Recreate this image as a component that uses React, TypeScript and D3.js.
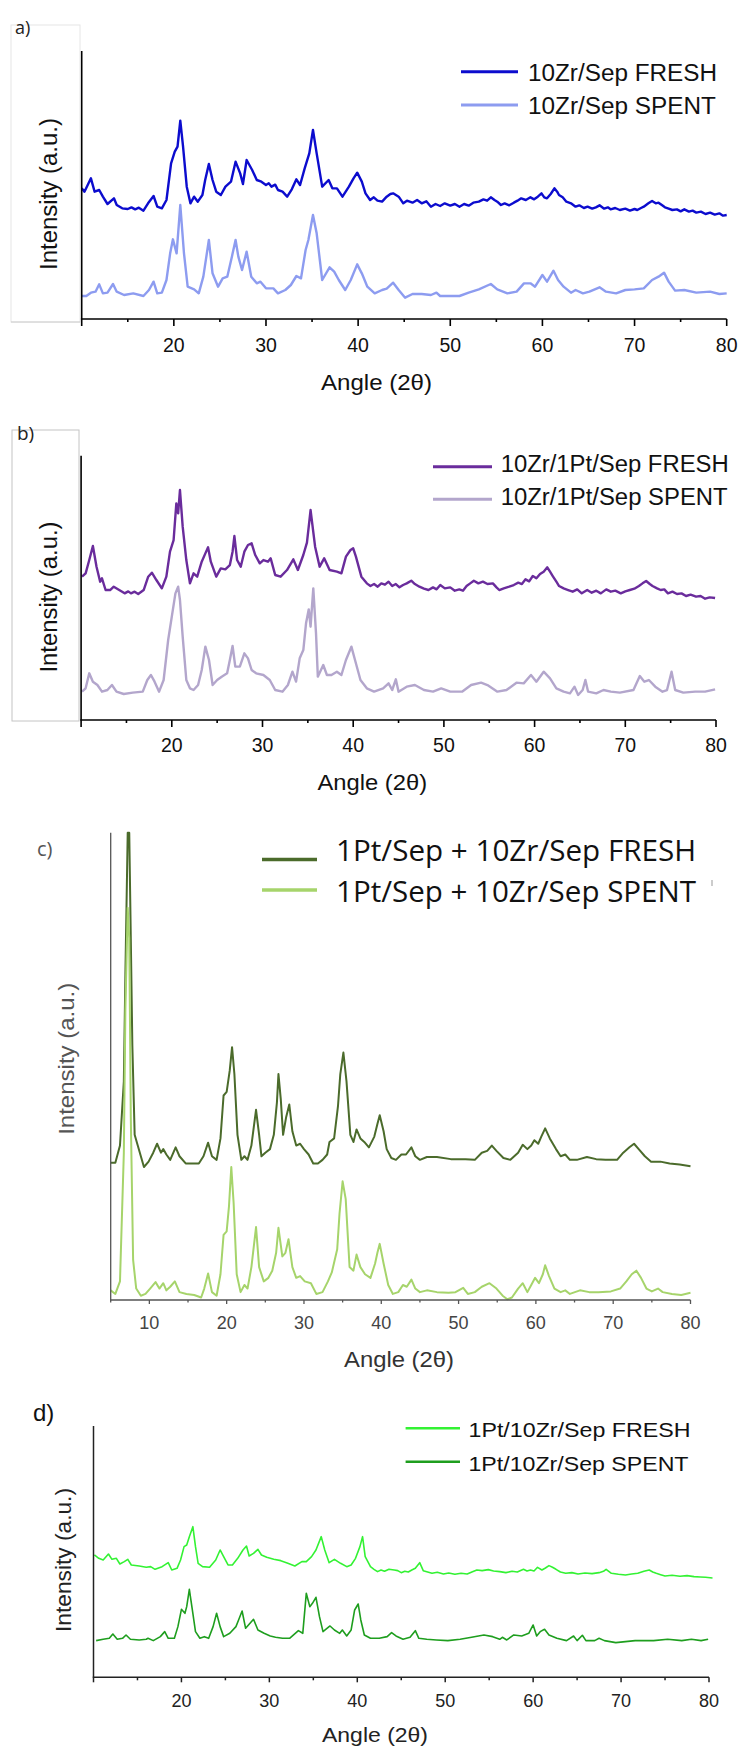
import React from 'react';
import * as d3 from 'd3';

type Pt = [number, number];

// ---------- DATA (angle 2θ, intensity a.u.) ----------
const aFresh: Pt[] = [[10.0,435],[10.3,425],[11.0,465],[11.4,425],[11.9,430],[12.3,410],[12.8,388],[13.5,405],[13.8,385],[14.4,375],[15.0,373],[15.4,378],[15.8,372],[16.2,377],[16.7,368],[17.2,390],[17.8,412],[18.2,380],[18.7,375],[19.2,400],[19.7,510],[20.1,545],[20.4,560],[20.7,638],[21.0,560],[21.4,440],[21.8,390],[22.2,410],[22.6,395],[23.1,415],[23.4,460],[23.8,508],[24.2,460],[24.6,425],[25.1,415],[25.6,440],[26.2,455],[26.7,515],[27.2,480],[27.5,448],[27.9,520],[28.5,490],[29.0,460],[29.5,455],[30.0,445],[30.3,450],[30.6,440],[31.0,446],[31.3,430],[31.8,425],[32.3,410],[32.8,432],[33.3,462],[33.7,445],[34.2,495],[34.7,540],[35.1,610],[35.5,540],[36.1,440],[36.8,460],[37.2,435],[37.7,435],[38.3,410],[39.0,440],[39.5,465],[39.9,482],[40.4,455],[40.8,420],[41.3,400],[41.7,408],[42.1,398],[42.6,395],[43.1,410],[43.5,418],[43.8,420],[44.4,410],[44.9,390],[45.3,398],[45.9,392],[46.4,400],[46.9,390],[47.4,396],[47.9,380],[48.4,388],[48.9,382],[49.4,390],[50.0,383],[50.5,388],[51.0,380],[51.5,388],[52.0,383],[52.5,392],[53.1,395],[53.6,402],[54.0,398],[54.4,408],[54.8,400],[55.1,395],[55.5,385],[55.9,390],[56.4,384],[56.9,392],[57.3,398],[57.7,405],[58.2,400],[58.7,408],[59.1,402],[59.5,410],[59.9,420],[60.2,408],[60.5,405],[60.9,418],[61.3,435],[61.6,425],[61.8,415],[62.2,408],[62.6,395],[63.1,390],[63.6,380],[64.0,384],[64.5,376],[64.9,380],[65.4,374],[65.8,378],[66.2,384],[66.7,374],[67.1,378],[67.4,372],[67.9,376],[68.4,370],[69.0,374],[69.5,368],[70.0,373],[70.3,370],[70.7,376],[71.0,380],[71.5,390],[71.9,397],[72.3,390],[72.6,392],[73.0,384],[73.3,378],[73.7,374],[74.1,370],[74.6,372],[75.0,366],[75.4,372],[75.9,365],[76.3,368],[76.7,362],[77.2,365],[77.7,358],[78.2,362],[78.7,356],[79.2,360],[79.6,353],[80.0,355]];
const aSpent: Pt[] = [[10.0,112],[10.5,112],[11.0,122],[11.5,125],[11.9,147],[12.3,120],[12.8,122],[13.4,148],[13.8,125],[14.6,115],[15.6,120],[16.7,112],[17.3,130],[17.8,155],[18.2,120],[18.7,122],[19.2,160],[19.6,240],[19.9,282],[20.3,240],[20.7,385],[21.1,240],[21.5,140],[22.2,132],[22.7,120],[23.2,170],[23.8,280],[24.2,180],[24.8,140],[25.3,165],[25.8,170],[26.3,230],[26.7,280],[27.0,230],[27.4,190],[27.9,245],[28.4,170],[29.0,150],[29.4,155],[30.0,135],[30.8,135],[31.3,120],[32.1,130],[32.7,145],[33.3,172],[33.8,165],[34.3,250],[34.6,280],[35.1,355],[35.5,300],[36.1,160],[36.9,198],[37.4,185],[37.9,160],[38.6,130],[39.2,160],[39.9,207],[40.4,180],[41.0,140],[41.8,120],[42.6,130],[43.1,134],[43.8,152],[44.4,130],[45.1,107],[45.9,118],[46.9,118],[47.9,115],[48.5,122],[48.9,112],[50.0,112],[51.0,112],[52.0,122],[53.1,132],[54.4,148],[55.1,132],[56.2,120],[57.2,125],[58.0,150],[58.7,150],[59.2,140],[60.0,175],[60.5,155],[61.2,188],[61.7,160],[62.3,140],[63.1,122],[63.6,130],[64.4,120],[65.1,125],[66.2,138],[66.9,125],[68.0,120],[69.0,130],[70.0,132],[71.0,135],[71.9,160],[72.6,170],[73.2,182],[73.7,155],[74.4,128],[75.4,130],[76.7,122],[78.2,125],[79.2,118],[80.0,120]];

const bFresh: Pt[] = [[10.1,550],[10.5,560],[10.9,600],[11.3,642],[11.7,580],[12.1,535],[12.3,545],[12.7,510],[13.2,510],[13.6,520],[14.2,510],[14.8,500],[15.2,506],[15.5,500],[15.9,505],[16.3,498],[16.9,510],[17.4,550],[17.8,562],[18.3,540],[18.9,515],[19.4,550],[19.8,625],[20.2,660],[20.5,770],[20.7,740],[20.9,810],[21.2,700],[21.6,600],[22.0,530],[22.4,560],[22.8,550],[23.3,595],[23.7,620],[24.0,638],[24.3,595],[24.9,550],[25.4,575],[25.9,572],[26.4,585],[26.7,625],[26.9,672],[27.2,600],[27.6,580],[28.0,625],[28.4,645],[28.8,650],[29.2,615],[29.7,590],[30.1,600],[30.6,595],[30.9,605],[31.4,555],[32.0,550],[32.7,570],[33.4,602],[33.9,570],[34.5,615],[34.9,652],[35.3,750],[35.8,640],[36.3,580],[36.8,605],[37.4,570],[38.2,565],[38.7,560],[39.2,610],[39.7,630],[40.0,635],[40.3,610],[40.9,550],[41.5,530],[41.9,522],[42.3,528],[42.7,520],[43.1,530],[43.5,526],[43.9,535],[44.3,522],[44.7,528],[45.1,518],[45.5,525],[45.9,530],[46.4,538],[46.8,528],[47.3,520],[47.8,514],[48.3,510],[48.8,518],[49.2,512],[49.6,525],[50.1,515],[50.7,518],[51.2,508],[51.7,512],[52.1,508],[52.5,522],[52.9,530],[53.3,538],[53.8,530],[54.3,535],[54.8,528],[55.4,530],[55.8,518],[56.1,510],[56.6,515],[57.2,520],[57.7,525],[58.2,532],[58.6,528],[59.0,542],[59.4,536],[59.8,552],[60.2,545],[60.6,558],[61.0,565],[61.4,578],[61.7,565],[62.0,552],[62.4,535],[62.7,522],[63.2,515],[63.7,510],[64.2,505],[64.7,512],[65.2,500],[65.8,510],[66.3,502],[66.8,508],[67.3,500],[67.9,512],[68.4,505],[68.9,508],[69.5,500],[70.0,506],[70.5,510],[71.0,514],[71.5,522],[71.9,530],[72.3,537],[72.7,528],[73.0,522],[73.5,515],[73.9,510],[74.3,512],[74.7,500],[75.2,505],[75.7,498],[76.2,500],[76.7,492],[77.2,496],[77.8,490],[78.3,492],[78.8,484],[79.3,488],[79.9,486]];
const bSpent: Pt[] = [[10.1,205],[10.5,215],[10.9,260],[11.3,235],[11.8,225],[12.3,205],[12.9,210],[13.4,225],[13.9,205],[14.7,198],[15.7,202],[16.8,205],[17.3,240],[17.7,255],[18.1,235],[18.6,205],[19.1,240],[19.6,360],[20.0,430],[20.4,500],[20.7,520],[20.9,480],[21.2,370],[21.6,240],[22.0,215],[22.4,210],[22.9,225],[23.3,270],[23.7,340],[24.1,300],[24.5,225],[25.0,240],[25.5,250],[26.1,260],[26.4,300],[26.7,342],[27.0,280],[27.5,280],[28.0,320],[28.4,305],[28.8,270],[29.3,260],[30.1,255],[30.8,240],[31.4,210],[32.2,205],[32.8,225],[33.3,265],[33.7,235],[34.1,305],[34.5,330],[34.8,410],[35.1,452],[35.3,400],[35.6,515],[35.9,380],[36.1,250],[36.7,285],[37.1,255],[37.6,255],[38.2,265],[38.7,255],[39.2,300],[39.8,340],[40.2,300],[40.8,240],[41.5,215],[42.3,205],[43.3,215],[43.9,230],[44.3,210],[44.7,242],[45.0,205],[45.9,220],[46.8,225],[47.8,210],[48.8,205],[49.7,215],[50.7,205],[52.0,205],[53.0,225],[54.1,232],[54.8,225],[55.9,205],[56.9,210],[58.0,232],[58.8,230],[59.6,255],[60.2,235],[61.0,265],[61.7,245],[62.4,215],[63.2,205],[63.9,200],[64.4,220],[64.8,195],[65.3,210],[65.6,240],[65.9,205],[66.8,200],[67.6,210],[68.4,205],[69.4,202],[70.9,210],[71.6,252],[72.1,235],[72.6,240],[73.3,220],[74.1,205],[74.6,210],[75.1,265],[75.5,210],[76.4,202],[77.7,205],[78.8,205],[79.9,212]];

const cFresh: Pt[] = [[5.0,472],[5.6,472],[6.2,520],[6.7,700],[6.9,1000],[7.2,1395],[7.4,1395],[7.6,1100],[7.8,800],[8.1,550],[8.5,520],[8.9,490],[9.3,460],[9.9,475],[10.5,500],[11.0,525],[11.5,500],[11.8,510],[12.2,495],[12.7,480],[13.4,515],[13.9,490],[14.7,470],[15.5,470],[16.4,470],[17.0,490],[17.6,528],[18.1,490],[18.7,480],[19.2,540],[19.6,660],[20.0,670],[20.4,730],[20.7,795],[21.0,720],[21.4,550],[21.9,480],[22.3,490],[22.7,480],[23.2,520],[23.5,570],[23.8,620],[24.2,550],[24.5,490],[25.0,500],[25.6,510],[26.1,550],[26.5,640],[26.7,720],[27.0,650],[27.3,550],[27.7,600],[28.1,635],[28.5,560],[29.0,520],[29.5,525],[30.0,510],[30.6,495],[31.2,470],[31.8,470],[32.4,480],[33.0,495],[33.3,530],[33.9,540],[34.4,630],[34.7,720],[35.1,780],[35.5,700],[36.0,550],[36.4,530],[36.8,565],[37.3,540],[37.8,530],[38.4,515],[39.1,545],[39.5,580],[39.8,605],[40.3,560],[40.7,510],[41.3,485],[41.9,480],[42.6,495],[43.2,495],[43.9,515],[44.4,490],[45.0,480],[45.9,488],[47.2,488],[49.0,482],[50.9,482],[52.1,480],[53.0,500],[53.7,505],[54.3,520],[54.9,505],[55.8,485],[56.7,480],[57.7,500],[58.3,522],[58.9,510],[59.4,520],[59.8,535],[60.3,525],[60.7,545],[61.2,568],[61.8,540],[62.6,510],[63.2,490],[63.8,495],[64.4,480],[65.3,480],[66.6,488],[67.8,482],[69.0,480],[70.5,480],[71.3,500],[72.1,515],[72.7,525],[73.3,510],[74.1,490],[74.9,475],[76.1,475],[77.3,470],[78.6,467],[80.0,462]];
const cSpent: Pt[] = [[5.0,115],[5.6,105],[6.2,140],[6.7,500],[6.9,900],[7.2,1185],[7.4,1100],[7.6,600],[7.9,200],[8.3,120],[8.9,100],[9.5,105],[10.1,120],[10.8,138],[11.3,120],[11.8,135],[12.2,115],[12.7,125],[13.3,140],[13.9,110],[14.8,105],[15.8,102],[16.7,95],[17.1,120],[17.6,162],[18.1,110],[18.7,100],[19.2,160],[19.6,270],[20.0,280],[20.3,350],[20.6,460],[20.9,360],[21.3,160],[21.8,110],[22.3,130],[22.7,120],[23.2,180],[23.8,292],[24.2,180],[24.8,140],[25.4,150],[25.9,170],[26.4,220],[26.7,290],[27.2,210],[27.6,220],[28.0,258],[28.5,180],[29.0,150],[29.5,155],[30.1,140],[30.9,135],[31.6,105],[32.4,110],[33.1,140],[33.6,165],[34.3,230],[34.6,330],[35.0,420],[35.4,370],[35.9,180],[36.4,170],[36.8,215],[37.3,180],[37.9,160],[38.6,150],[39.2,190],[39.5,220],[39.8,245],[40.3,190],[40.9,130],[41.5,105],[42.2,110],[42.8,130],[43.3,125],[43.9,145],[44.4,120],[45.0,110],[45.9,115],[47.2,110],[48.7,108],[49.6,110],[50.6,122],[51.2,105],[52.1,110],[53.0,125],[54.0,135],[54.9,120],[55.7,100],[56.3,90],[56.9,95],[57.7,120],[58.3,135],[58.9,110],[59.4,130],[59.9,150],[60.4,135],[60.9,160],[61.2,185],[61.7,155],[62.4,120],[63.2,110],[63.8,115],[64.4,105],[65.7,115],[66.9,110],[68.1,110],[69.7,112],[70.9,120],[71.7,140],[72.4,160],[73.0,170],[73.6,150],[74.3,120],[75.0,112],[75.8,120],[76.4,110],[77.6,105],[78.8,102],[80.0,108]];

const dFresh: Pt[] = [[10.1,495],[10.6,485],[11.1,480],[11.7,498],[12.1,482],[12.6,485],[13.0,468],[13.5,475],[13.9,482],[14.3,465],[15.2,462],[16.0,458],[16.5,460],[17.0,452],[17.8,460],[18.5,472],[18.9,450],[19.5,455],[19.9,480],[20.3,520],[20.6,525],[20.9,550],[21.3,580],[21.6,520],[21.9,470],[22.4,460],[23.2,458],[23.9,480],[24.4,510],[24.8,490],[25.3,465],[25.8,465],[26.4,485],[27.0,510],[27.4,522],[27.7,492],[28.2,500],[28.7,512],[29.1,495],[29.7,488],[30.5,482],[31.3,478],[32.1,470],[32.9,462],[33.7,475],[34.2,475],[34.8,490],[35.3,510],[35.9,550],[36.3,510],[36.8,472],[37.4,482],[38.1,470],[38.8,460],[39.3,465],[39.8,485],[40.3,520],[40.6,550],[40.9,490],[41.5,460],[41.9,452],[42.3,445],[42.7,450],[43.1,446],[43.6,452],[44.2,450],[44.6,448],[45.0,442],[45.4,446],[45.8,444],[46.2,450],[46.6,455],[47.1,472],[47.5,448],[48.0,444],[48.5,440],[49.1,443],[49.8,438],[50.4,441],[51.1,437],[51.8,440],[52.5,438],[53.1,445],[53.6,450],[54.2,448],[54.9,451],[55.5,447],[56.2,445],[56.9,442],[57.6,446],[58.2,444],[58.9,452],[59.3,447],[59.7,450],[60.1,447],[60.5,458],[61.0,450],[61.4,456],[61.8,463],[62.2,458],[62.6,452],[63.1,444],[63.7,440],[64.4,442],[65.1,438],[65.9,441],[66.7,439],[67.5,442],[68.0,446],[68.3,452],[68.9,440],[69.7,437],[70.5,435],[71.2,438],[71.9,440],[72.6,446],[73.2,450],[73.6,444],[74.0,440],[74.5,436],[75.0,432],[75.8,434],[76.7,431],[77.5,433],[78.3,430],[79.0,429],[79.6,428],[80.4,426]];
const dSpent: Pt[] = [[10.3,238],[11.1,242],[11.8,245],[12.2,258],[12.7,242],[13.3,245],[13.7,255],[14.2,242],[15.2,240],[16.0,242],[16.2,245],[16.8,238],[17.6,250],[18.1,265],[18.5,245],[19.2,245],[19.6,280],[20.0,332],[20.4,320],[20.6,340],[20.9,392],[21.3,320],[21.6,265],[22.1,245],[22.6,250],[23.1,245],[23.6,280],[24.0,320],[24.4,280],[24.8,250],[25.5,260],[26.2,280],[26.5,300],[26.9,327],[27.3,275],[27.8,290],[28.2,302],[28.7,270],[29.4,260],[30.1,252],[30.7,248],[31.5,245],[32.3,245],[33.3,268],[33.8,260],[34.2,380],[34.6,340],[34.9,350],[35.3,368],[35.7,310],[36.1,265],[36.9,282],[37.4,270],[38.0,260],[38.3,270],[38.8,252],[39.3,270],[39.7,330],[40.1,348],[40.4,300],[40.8,255],[41.5,245],[42.5,245],[43.4,250],[43.9,262],[44.4,252],[45.2,242],[46.0,248],[46.6,268],[47.0,245],[47.9,242],[49.0,240],[50.3,238],[51.7,242],[53.0,248],[54.4,255],[55.4,250],[56.2,242],[56.5,248],[57.0,240],[57.8,255],[58.7,252],[59.5,260],[60.0,285],[60.4,252],[60.8,265],[61.3,272],[61.8,255],[62.7,245],[63.8,238],[64.6,252],[65.0,238],[65.6,254],[66.0,238],[67.0,238],[67.5,245],[68.1,238],[69.4,232],[71.6,238],[73.7,238],[75.3,242],[76.9,238],[78.0,242],[79.1,238],[79.9,242]];

const majorTicks10 = [10, 20, 30, 40, 50, 60, 70, 80];
const minorTicks10 = [15, 25, 35, 45, 55, 65, 75];
const labels20 = [20, 30, 40, 50, 60, 70, 80];
const labels10 = [10, 20, 30, 40, 50, 60, 70, 80];
const minorTicks5 = [5, 15, 25, 35, 45, 55, 65, 75];

const legendA = ['10Zr/Sep FRESH', '10Zr/Sep SPENT'];
const legendB = ['10Zr/1Pt/Sep FRESH', '10Zr/1Pt/Sep SPENT'];
const legendC = ['1Pt/Sep + 10Zr/Sep FRESH', '1Pt/Sep + 10Zr/Sep SPENT'];
const legendD = ['1Pt/10Zr/Sep FRESH', '1Pt/10Zr/Sep SPENT'];

const ARIAL = "'Liberation Sans', Arial, sans-serif";
const CAL = "'Open Sans', 'Noto Sans', sans-serif";

// ---------- PANEL ----------
function Panel({ cfg }: { cfg: any }) {
  const x = d3.scaleLinear().domain(cfg.xDomain).range([cfg.x0, cfg.x1]);
  const y = d3.scaleLinear().domain(cfg.yDomain).range([cfg.yBottom, cfg.yTop]);
  const line = d3.line<Pt>().x(d => x(d[0])).y(d => y(d[1]));
  return (
    <g>
      {cfg.box && (
        <rect x={cfg.box.x} y={cfg.box.y} width={cfg.box.w} height={cfg.box.h}
          fill="none" stroke={cfg.box.stroke} strokeWidth={1} />
      )}
      {cfg.box && cfg.box.bottom && (
        <line x1={cfg.box.x} x2={cfg.box.x + cfg.box.w} y1={cfg.box.y + cfg.box.h} y2={cfg.box.y + cfg.box.h}
          stroke={cfg.box.bottom} strokeWidth={1} />
      )}
      <text x={cfg.plabel.x} y={cfg.plabel.y} fontSize={cfg.plabel.size} fontFamily={cfg.plabel.font}
        fill={cfg.plabel.color}>{cfg.plabel.text}</text>

      {cfg.series.map((s: any, i: number) => (
        <path key={i} d={line(s.data) || ''} fill="none" stroke={s.color} strokeWidth={cfg.lineWidth}
          strokeLinejoin="round" />
      ))}

      {/* axes */}
      <line x1={x(cfg.xDomain[0])} x2={x(cfg.xDomain[0])} y1={cfg.yTop} y2={cfg.yBottom}
        stroke={cfg.axisColor} strokeWidth={cfg.axisWidth} />
      <line x1={x(cfg.xDomain[0]) - cfg.axisWidth / 2} x2={x(cfg.xDomain[1])} y1={cfg.yBottom} y2={cfg.yBottom}
        stroke={cfg.axisColor} strokeWidth={cfg.axisWidth} />
      {cfg.major.map((t: number) => (
        <line key={'M' + t} x1={x(t)} x2={x(t)} y1={cfg.yBottom} y2={cfg.yBottom + cfg.majorLen}
          stroke={cfg.axisColor} strokeWidth={cfg.axisWidth} />
      ))}
      {cfg.minor.map((t: number) => (
        <line key={'m' + t} x1={x(t)} x2={x(t)} y1={cfg.yBottom} y2={cfg.yBottom + cfg.minorLen}
          stroke={cfg.axisColor} strokeWidth={cfg.axisWidth} />
      ))}
      {cfg.labels.map((t: number) => (
        <text key={'l' + t} x={x(t)} y={cfg.labelY} textAnchor="middle" fontSize={cfg.labelSize}
          fontFamily={ARIAL} fill={cfg.labelColor}>{t}</text>
      ))}
      <text x={cfg.xTitle.x} y={cfg.xTitle.y} textAnchor="middle" fontSize={cfg.xTitle.size}
        fontFamily={ARIAL} fill={cfg.xTitle.color} textLength={cfg.xTitle.len} lengthAdjust="spacingAndGlyphs">
        Angle (2θ)
      </text>
      <text transform={`translate(${cfg.yTitle.x},${cfg.yTitle.y}) rotate(-90)`} textAnchor="middle"
        fontSize={cfg.yTitle.size} fontFamily={ARIAL} fill={cfg.yTitle.color}
        textLength={cfg.yTitle.len} lengthAdjust="spacingAndGlyphs">
        Intensity (a.u.)
      </text>

      {/* legend */}
      {cfg.legend.items.map((it: any, i: number) => (
        <g key={'lg' + i}>
          <line x1={cfg.legend.x1} x2={cfg.legend.x2} y1={it.y} y2={it.y} stroke={cfg.series[i].color}
            strokeWidth={cfg.legend.lw} />
          <text x={cfg.legend.tx} y={it.ty} fontSize={cfg.legend.size} fontFamily={cfg.legend.font}
            fill="#111" textLength={it.len} lengthAdjust="spacingAndGlyphs">{cfg.legendText[i]}</text>
        </g>
      ))}
    </g>
  );
}

const panelA = {
  xDomain: [10, 80], x0: 81.7, x1: 726.7, yDomain: [43, 847], yBottom: 319, yTop: 51,
  axisColor: '#000', axisWidth: 1.6, major: majorTicks10, minor: minorTicks10, majorLen: 7, minorLen: 3,
  labels: labels20, labelY: 351.7, labelSize: 19.5, labelColor: '#111',
  xTitle: { x: 376.5, y: 389.5, size: 22, len: 111, color: '#111' },
  yTitle: { x: 57, y: 194, size: 23.5, len: 152, color: '#111' },
  plabel: { text: 'a)', x: 15, y: 34, size: 18, font: CAL, color: '#222' },
  box: { x: 11, y: 25, w: 69, h: 297, stroke: '#e6e6e6', bottom: '#cccccc' },
  lineWidth: 2.4,
  series: [{ data: aFresh, color: '#0c0cce' }, { data: aSpent, color: '#8d9cf0' }],
  legendText: legendA,
  legend: { x1: 461, x2: 518, tx: 528, size: 23, font: ARIAL, lw: 3,
    items: [{ y: 71.7, ty: 81, len: 189 }, { y: 105, ty: 113.5, len: 188 }] },
};

const panelB = {
  xDomain: [10, 80], x0: 81.1, x1: 716, yDomain: [120, 913], yBottom: 720, yTop: 455.7,
  axisColor: '#000', axisWidth: 1.6, major: majorTicks10, minor: minorTicks10, majorLen: 7, minorLen: 3,
  labels: labels20, labelY: 751.7, labelSize: 19.5, labelColor: '#111',
  xTitle: { x: 372.3, y: 789.8, size: 22, len: 109.5, color: '#111' },
  yTitle: { x: 57, y: 597, size: 23.5, len: 151, color: '#111' },
  plabel: { text: 'b)', x: 17, y: 440, size: 19, font: CAL, color: '#222' },
  box: { x: 12, y: 430, w: 67, h: 291, stroke: '#c4c4c4' },
  lineWidth: 2.4,
  series: [{ data: bFresh, color: '#6a2c9c' }, { data: bSpent, color: '#b3a6cc' }],
  legendText: legendB,
  legend: { x1: 433, x2: 492, tx: 500.7, size: 23, font: ARIAL, lw: 3,
    items: [{ y: 466.7, ty: 471.7, len: 228 }, { y: 499.3, ty: 505, len: 227 }] },
};

const panelC = {
  xDomain: [5, 80], x0: 110.7, x1: 690.5, yDomain: [88, 1395], yBottom: 1300, yTop: 832.7,
  axisColor: '#555', axisWidth: 1.3, major: labels10, minor: minorTicks5, majorLen: 4, minorLen: 2.5,
  labels: labels10, labelY: 1329, labelSize: 18, labelColor: '#444',
  xTitle: { x: 399, y: 1367, size: 22, len: 110, color: '#333' },
  yTitle: { x: 74, y: 1058.8, size: 22, len: 152, color: '#555' },
  plabel: { text: 'c)', x: 37, y: 856, size: 20, font: CAL, color: '#555' },
  box: null,
  lineWidth: 2.0,
  series: [{ data: cFresh, color: '#4b6b2b' }, { data: cSpent, color: '#a6d46b' }],
  legendText: legendC,
  legend: { x1: 262, x2: 317, tx: 336, size: 29, font: CAL, lw: 3.5,
    items: [{ y: 859.5, ty: 861.3, len: 360 }, { y: 889.9, ty: 901.7, len: 360 }] },
};

const panelD = {
  xDomain: [10, 80], x0: 93.5, x1: 709, yDomain: [128, 882], yBottom: 1677.3, yTop: 1426,
  axisColor: '#222', axisWidth: 1.5, major: majorTicks10, minor: minorTicks10, majorLen: 5, minorLen: 3,
  labels: labels20, labelY: 1706.7, labelSize: 18, labelColor: '#222',
  xTitle: { x: 375, y: 1742, size: 21, len: 106, color: '#222' },
  yTitle: { x: 71, y: 1560, size: 22, len: 144, color: '#222' },
  plabel: { text: 'd)', x: 33, y: 1421, size: 24, font: ARIAL, color: '#111' },
  box: null,
  lineWidth: 1.6,
  series: [{ data: dFresh, color: '#33f233' }, { data: dSpent, color: '#1e9e1e' }],
  legendText: legendD,
  legend: { x1: 405.6, x2: 460, tx: 468.5, size: 21, font: ARIAL, lw: 2.5,
    items: [{ y: 1428.3, ty: 1437.3, len: 222 }, { y: 1461.7, ty: 1470.7, len: 220 }] },
};

export default function App() {
  return (
    <svg width={742} height={1751} viewBox="0 0 742 1751"
      style={{ position: 'absolute', left: 0, top: 0, display: 'block', background: '#fff' }}>
      <rect x={0} y={0} width={742} height={1751} fill="#fff" />
      <Panel cfg={panelA} />
      <Panel cfg={panelB} />
      <Panel cfg={panelC} />
      <line x1={712} x2={712} y1={880} y2={886} stroke="#999" strokeWidth={1} />
      <Panel cfg={panelD} />
    </svg>
  );
}
